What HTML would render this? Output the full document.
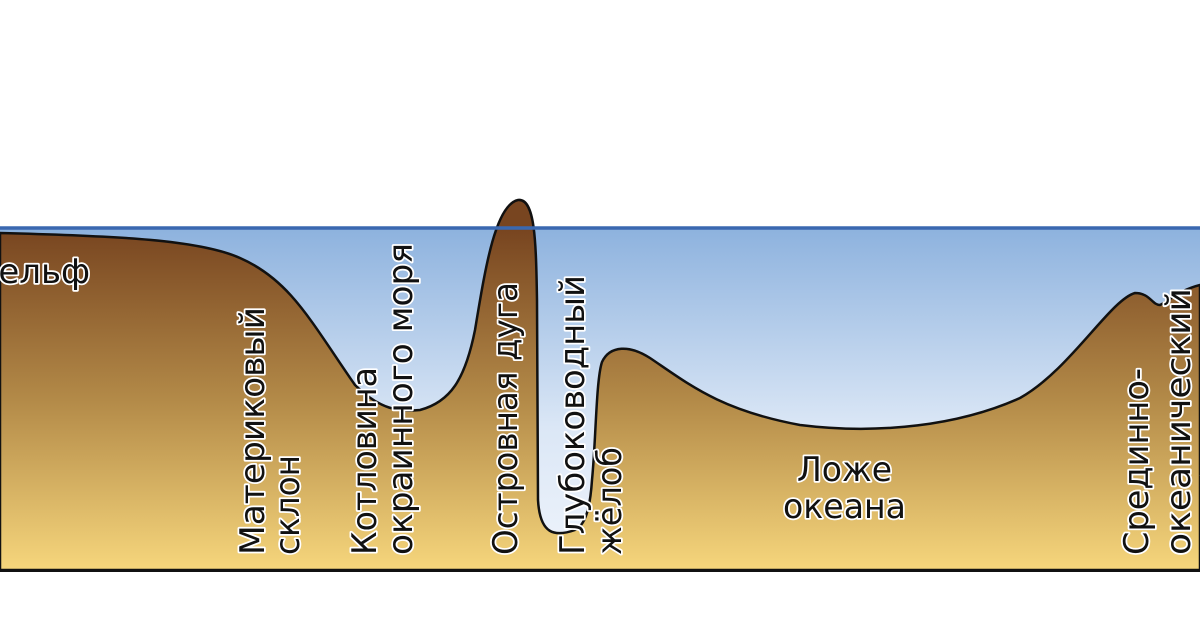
<!DOCTYPE html>
<html><head><meta charset="utf-8"><style>html,body{margin:0;padding:0;background:#fff}svg{display:block}
text{font-family:"DejaVu Sans","Liberation Sans",sans-serif;font-size:34px;fill:#111;stroke:#fff;stroke-width:3.5;paint-order:stroke;stroke-linejoin:round}</style></head>
<body>
<svg width="1200" height="630" viewBox="0 0 1200 630" xmlns="http://www.w3.org/2000/svg">
<defs>
<linearGradient id="w" gradientUnits="userSpaceOnUse" x1="0" y1="228" x2="0" y2="560">
<stop offset="0" stop-color="#8db2de"/><stop offset="0.6" stop-color="#dbe7f6"/><stop offset="1" stop-color="#eef3fb"/></linearGradient>
<linearGradient id="g" gradientUnits="userSpaceOnUse" x1="0" y1="230" x2="0" y2="570">
<stop offset="0" stop-color="#784520"/><stop offset="0.5" stop-color="#b38a48"/><stop offset="1" stop-color="#f6d67c"/></linearGradient>
</defs>
<rect x="0" y="228" width="1200" height="342" fill="url(#w)"/>
<path d="M0,233 C120,236 200,240 240,258 C290,280 310,320 355,385 C380,410 400,412 420,410 C450,402 465,380 475,330 C485,270 495,205 518,200 C535,198 536,240 537,300 L538,500 C540,535 555,537 575,530 C585,525 590,510 592,480 C596,440 596,380 602,362 C610,345 630,345 650,358 C690,385 720,410 800,425 C880,435 960,425 1020,398 C1070,370 1110,300 1135,293 C1150,293 1152,305 1160,305 C1170,300 1180,290 1200,285 L1200,570 L0,570 Z" fill="url(#g)" stroke="#111" stroke-width="2.5" stroke-linejoin="round"/>
<line x1="0" y1="228" x2="1200" y2="228" stroke="#3a68b0" stroke-width="3.5"/>
<rect x="0" y="569" width="1200" height="3" fill="#111"/>
<text x="-38" y="283">Шельф</text>
<text transform="translate(264,555) rotate(-90)" textLength="248" lengthAdjust="spacingAndGlyphs">Материковый</text>
<text transform="translate(299,555) rotate(-90)" textLength="100" lengthAdjust="spacingAndGlyphs">склон</text>
<text transform="translate(376,555) rotate(-90)" textLength="188" lengthAdjust="spacingAndGlyphs">Котловина</text>
<text transform="translate(412,555) rotate(-90)" textLength="312" lengthAdjust="spacingAndGlyphs">окраинного моря</text>
<text transform="translate(517,555) rotate(-90)" textLength="273" lengthAdjust="spacingAndGlyphs">Островная дуга</text>
<text transform="translate(584,555) rotate(-90)" textLength="280" lengthAdjust="spacingAndGlyphs">Глубоководный</text>
<text transform="translate(621,555) rotate(-90)" textLength="108" lengthAdjust="spacingAndGlyphs">жёлоб</text>
<text x="797" y="481" textLength="95" lengthAdjust="spacingAndGlyphs">Ложе</text>
<text x="783" y="518" textLength="123" lengthAdjust="spacingAndGlyphs">океана</text>
<text transform="translate(1148,555) rotate(-90)" textLength="187" lengthAdjust="spacingAndGlyphs">Срединно-</text>
<text transform="translate(1190,555) rotate(-90)" textLength="267" lengthAdjust="spacingAndGlyphs">океанический</text>
<text transform="translate(1228,555) rotate(-90)">хребет</text>
</svg>
</body></html>
